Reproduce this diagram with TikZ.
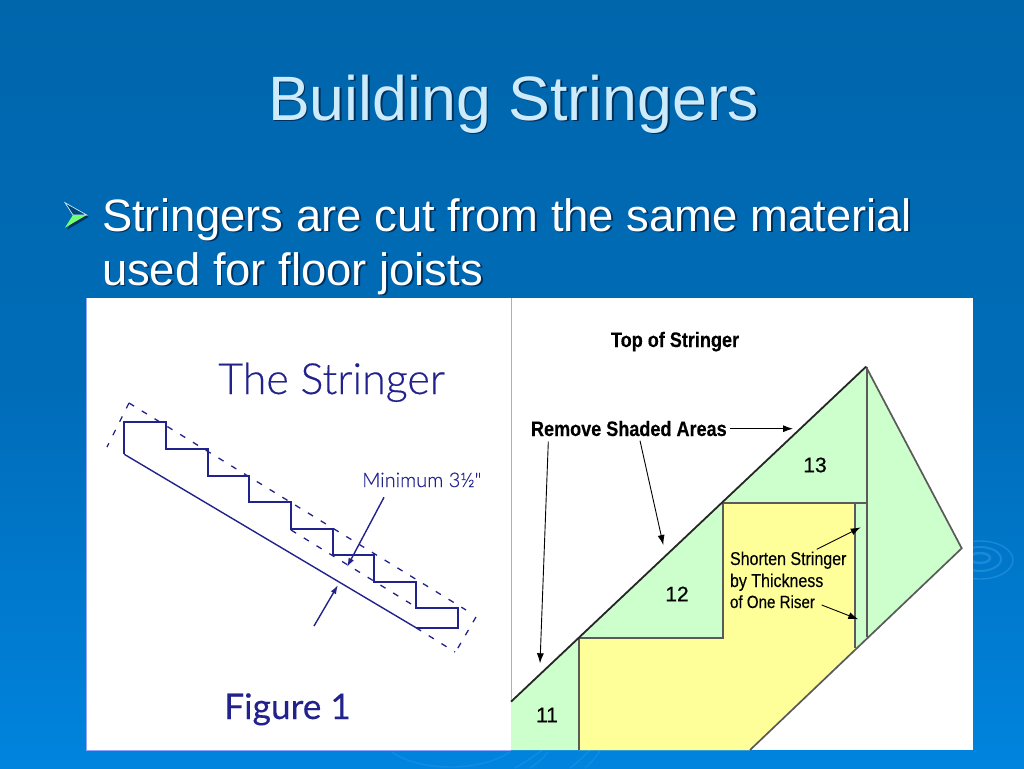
\documentclass[tikz,border=0pt]{standalone}
\usepackage{fontspec}
\setmainfont{Liberation Sans}
\newfontfamily\narrowfont[FakeStretch=0.86,FakeBold=0.25]{Liberation Sans}
\newfontfamily\numfont[FakeBold=0.6]{Liberation Sans}
\newfontfamily\handfont[FakeBold=0.35]{Lato Light}
\newfontfamily\handbold[FakeBold=0.2]{Lato}
\usetikzlibrary{arrows.meta}
\definecolor{bgtop}{HTML}{0066AC}
\definecolor{bgmid}{HTML}{006CB8}
\definecolor{bgbot}{HTML}{0084DE}
\definecolor{titlecol}{HTML}{CDEBFB}
\definecolor{shadowcol}{HTML}{00305C}
\definecolor{inkblue}{HTML}{22228C}
\definecolor{cutgreen}{HTML}{CCFFCC}
\definecolor{keepyellow}{HTML}{FFFF99}
\definecolor{edgegrey}{HTML}{5A5A5A}
\definecolor{ripple}{HTML}{3AA0EC}
\newcommand{\shadowed}[1]{\leavevmode\rlap{\raisebox{-1.8pt}{\hspace*{1.8pt}\textcolor{shadowcol}{#1}}}#1}
\tikzset{
  x=1pt,y=-1pt,
  slidetext/.style={anchor=base west,inner sep=0pt,outer sep=0pt},
  titletext/.style={slidetext,text=titlecol,font=\fontsize{62.7}{62.7}\selectfont},
  bodytext/.style={slidetext,text=white,font=\fontsize{45.4}{45.4}\selectfont},
  stairline/.style={draw=inkblue,line width=2pt,line join=miter},
  dashline/.style={draw=inkblue,line width=1.3pt,dash pattern=on 6pt off 9pt},
  thinblue/.style={draw=inkblue,line width=1.4pt},
  panelline/.style={draw=edgegrey,line width=1.7pt},
  calltext/.style={anchor=base west,inner sep=0pt,outer sep=0pt,text=black,font=\narrowfont\fontsize{18.6}{18.6}\selectfont},
  calltextc/.style={calltext,font=\narrowfont\fontsize{17.6}{17.6}\selectfont},
  calltextb/.style={calltext,font=\narrowfont\bfseries\fontsize{21}{21}\selectfont},
  numtext/.style={anchor=center,inner sep=0pt,text=black,font=\numfont\fontsize{21}{21}\selectfont},
  callarrow/.style={draw=black,line width=0.9pt,-{Latex[length=10pt,width=7pt]}},
  ripplering/.style={draw=ripple,line width=1.4pt,opacity=0.45},
}
\begin{document}
\begin{tikzpicture}
\useasboundingbox (0,0) rectangle (1024,768);
% background
\shade[top color=bgtop,bottom color=bgbot,middle color=bgmid] (0,0) rectangle (1024,768);
% ripples
\begin{scope}
\clip (973,500) rectangle (1024,620);
\draw[ripplering,line width=2.5pt] (980,558) ellipse [x radius=10,y radius=5];
\draw[ripplering,line width=2pt] (980,559) ellipse [x radius=21,y radius=12];
\draw[ripplering] (980,560) ellipse [x radius=33,y radius=19];
\end{scope}
\draw[ripplering,opacity=0.3] (392,752) .. controls (420,772) and (480,772) .. (510,752);
\draw[ripplering,opacity=0.3] (515,768) .. controls (525,762) and (535,756) .. (542,750);
\draw[ripplering,opacity=0.3] (530,768) .. controls (538,763) and (543,758) .. (548,752);
\draw[ripplering,opacity=0.3] (570,768) .. controls (578,762) and (584,756) .. (590,750);
\draw[ripplering,opacity=0.3] (585,768) .. controls (592,762) and (596,757) .. (600,751);
% title and bullet
\node[titletext] (title) at (268,120) {\shadowed{Building Stringers}};
\fill[shadowcol] (67,204.5) -- (88.7,217) -- (67,229.7) -- (75,217) -- cycle;
\fill[bgtop!70!black] (65,202.7) -- (86.7,215) -- (73,215) -- cycle;
\draw[draw=titlecol,line width=0.7pt] (65,202.7) -- (86.7,215) -- (73,215) -- cycle;
\fill[green!55!white] (65,227.7) -- (86.7,215) -- (73,215) -- cycle;
\node[bodytext] (line1) at (102,231) {\shadowed{Stringers are cut from the same material}};
\node[bodytext] (line2) at (102,285) {\shadowed{used for floor joists}};
% white panels
\fill[white] (86,298) rectangle (973,750);
\draw[draw=titlecol!70!blue,line width=1pt] (86,298) -- (86,750) -- (511,750);
\draw[draw=black!40!teal!40!white,line width=1pt] (511,298) -- (511,750);
% left figure
\node[anchor=base west,inner sep=0pt,text=inkblue,font=\handfont\fontsize{43}{43}\selectfont] (fig title) at (218,394) {The Stringer};
\node[anchor=base west,inner sep=0pt,text=inkblue,font=\handbold\fontsize{35.3}{35.3}\selectfont] (fig caption) at (224,719) {Figure 1};
\node[anchor=base west,inner sep=0pt,text=inkblue,font=\handfont\fontsize{20}{20}\selectfont] (fig min) at (362,487) {Minimum 3½"};
\draw[stairline] (124.3,454.3) -- (124.3,421.7) -- (166,421.7) -- (166,449) -- (207.7,449) -- (207.7,475.7) -- (249.3,475.7) -- (249.3,502.3) -- (291,502.3) -- (291,528.7) -- (332.7,528.7) -- (332.7,555.3) -- (374.3,555.3) -- (374.3,581.7) -- (416,581.7) -- (416,608.3) -- (457.7,608.3) -- (457.7,627.7) -- (416,627.7);
\draw[thinblue] (124.3,454.3) -- (416,627.7);
\draw[dashline] (129,403) -- (466,610);
\draw[dashline] (129,403) -- (107,447);
\draw[dashline] (476,617) -- (455,653);
\draw[dashline] (416,627.7) -- (455,652);
\draw[dashline] (291,530) -- (416,607);
\draw[thinblue,-{Latex[length=9pt,width=6pt]}] (384,497.3) -- (347,567);
\draw[thinblue,-{Latex[length=9pt,width=6pt]}] (314,626) -- (338,585);
% right figure
\fill[cutgreen] (511,701.7) -- (866,366.7) -- (961.7,548.3) -- (750,750) -- (511,750) -- cycle;
\fill[keepyellow] (579,638.3) -- (722.7,638.3) -- (722.7,502.7) -- (855,502.7) -- (855,648.3) -- (750,750) -- (579,750) -- cycle;
\draw[panelline] (579,750) -- (579,638.3) -- (722.7,638.3) -- (722.7,502.7) -- (866.7,502.7);
\draw[panelline] (855,502.7) -- (855,648.3);
\draw[panelline] (866.7,366.7) -- (866.7,636.7);
\draw[panelline] (866,366.7) -- (961.7,548.3) -- (750,750);
\draw[draw=black!85,line width=1.8pt] (511,701.7) -- (866,366.7);
\node[calltextb] (top label) at (611,347) {Top of Stringer};
\node[calltextb] (remove label) at (531,436) {Remove Shaded Areas};
\node[calltext] (shorten a) at (730,565) {Shorten Stringer};
\node[calltext] (shorten b) at (730,587) {by Thickness};
\node[calltextc] (shorten c) at (730,608) {of One Riser};
\node[numtext] (n11) at (547,715) {11};
\node[numtext] (n12) at (677,594) {12};
\node[numtext] (n13) at (815,465) {13};
\coordinate (a1s) at (548.3,441.7);
\coordinate (a1e) at (540,663.3);
\coordinate (a2s) at (640,440.7);
\coordinate (a2e) at (663.3,545);
\coordinate (a3e) at (793,428.7);
\coordinate (a4s) at (816.7,549.3);
\coordinate (a4e) at (860.7,527.3);
\coordinate (a5s) at (821.7,605);
\coordinate (a5e) at (858.3,619.3);
\draw[callarrow] (a1s) -- (a1e);
\draw[callarrow] (a2s) -- (a2e);
\draw[callarrow] (remove label.east |- a3e) ++(3,0) -- (a3e);
\draw[callarrow] (a4s) -- (a4e);
\draw[callarrow] (a5s) -- (a5e);
\end{tikzpicture}
\end{document}
